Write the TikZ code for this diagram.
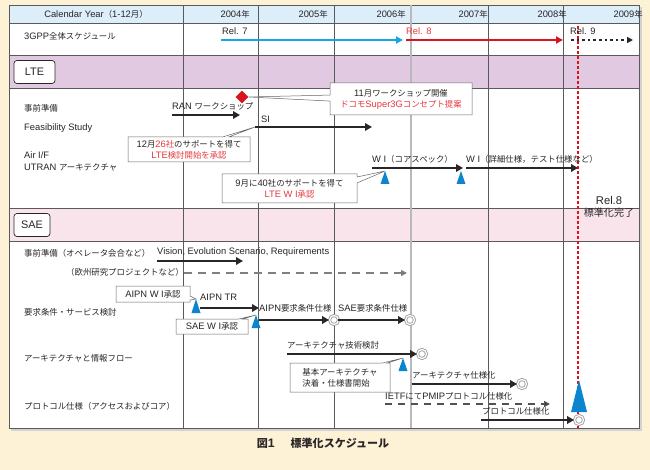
\documentclass[tikz,border=0pt]{standalone}
\usepackage{fontspec}
\setmainfont{Liberation Sans}[Scale=1.17]
\newfontfamily\enfont{Liberation Sans}[Scale=1.17]
\newfontfamily\jpfont{Noto Sans CJK JP}[Scale=1.05]
\usetikzlibrary{arrows.meta,shapes.geometric,shapes.callouts}

\XeTeXinterchartokenstate=1
\newXeTeXintercharclass\jpclass
\newcount\jpc
\def\jprange#1#2{\jpc=#1\relax
  \loop\XeTeXcharclass\jpc=\jpclass\relax\advance\jpc by 1\relax
  \ifnum\jpc<#2\relax\repeat}
\jprange{"3000}{"3100}
\jprange{"4E00}{"A000}
\jprange{"FF00}{"FFF0}
\XeTeXinterchartoks 0 \jpclass = {\jpfont}
\XeTeXinterchartoks 4095 \jpclass = {\jpfont}
\XeTeXinterchartoks \jpclass 0 = {\enfont}
\XeTeXinterchartoks 4095 0 = {\enfont}

\definecolor{cream}{HTML}{FEF2D6}
\definecolor{headblue}{HTML}{DCEEF9}
\definecolor{ltepurple}{HTML}{E2C9E2}
\definecolor{saepink}{HTML}{F9E4EC}
\definecolor{ink}{HTML}{2A2526}
\definecolor{relcyan}{HTML}{16A6E0}
\definecolor{relred}{HTML}{D9141E}
\definecolor{triblue}{HTML}{0B86CE}
\definecolor{notered}{HTML}{E8383D}
\definecolor{gridgray}{HTML}{5A5A5A}

\tikzset{
  pics/tri/.style 2 args={code={\fill[triblue] (-#1,#2) -- (#1,#2) -- (0,0) -- cycle;}}
}

\begin{document}
\begin{tikzpicture}[x=1pt,y=-1pt,
  lbl/.style={anchor=west,inner sep=0pt,text=ink,font=\fontsize{8}{10}\selectfont},
  yr/.style={lbl,anchor=east},
  bar/.style={draw=ink,line width=2.4pt,-{Triangle[length=7pt,width=7.5pt]}},
  ring/.style={circle,draw=gray!75,double=white,double distance=1.2pt,line width=0.9pt,fill=white,minimum size=9pt,inner sep=0pt},
  note/.style={rectangle callout,draw=gray!80!black,fill=white,line width=0.5pt,inner sep=1pt,align=center,text=ink,font=\fontsize{8}{11}\selectfont,callout pointer width=6pt},
  tag/.style={draw=ink,line width=0.7pt,rounded corners=3pt,fill=white,inner sep=0pt,text=ink,font=\fontsize{9.3}{12}\selectfont,minimum height=23pt},
  grid/.style={draw=gridgray,line width=0.6pt}
]
\useasboundingbox (0,0) rectangle (650,470);
\fill[cream] (0,0) rectangle (650,470);
\fill[gray!35] (11,7) rectangle (642,431);
\fill[white] (9,5) rectangle (639,428);
\fill[headblue] (9,5) rectangle (639,23);
\fill[ltepurple] (9,55) rectangle (639,88);
\fill[saepink] (9,208) rectangle (639,241);
\draw[grid] (9,5) rectangle (639,428);
\foreach \y in {23,55,88,208,241}
  \draw[grid] (9,\y) -- (639,\y);
\foreach \x in {183,258,334,488,563}
  \draw[grid] (\x,5) -- (\x,428);
\draw[gray!55,line width=1.6pt] (411,5) -- (411,428);

\node[lbl,anchor=center] (cal) at (96,14) {Calendar Year（1-12月）};
\node[yr] (y4) at (250,14) {2004年};
\node[yr] (y5) at (328,14) {2005年};
\node[yr] (y6) at (406,14) {2006年};
\node[yr] (y7) at (488,14) {2007年};
\node[yr] (y8) at (567,14) {2008年};
\node[yr] (y9) at (643,14) {2009年};

\coordinate (rl-top) at (578,26);
\coordinate (rl-bot) at (578,428);
\draw[relred,line width=2.6pt,dash pattern=on 2.6pt off 2.4pt] (rl-top) -- (rl-bot);

\node[lbl] (gpp) at (24,36) {3GPP全体スケジュール};
\coordinate (r7-s) at (221,40);
\coordinate (r7-e) at (403,40);
\coordinate (r8-s) at (406,40);
\coordinate (r8-e) at (563,40);
\coordinate (r9-s) at (571,40);
\coordinate (r9-e) at (633,40);
\draw[bar,draw=relcyan,line width=2.2pt,-{Triangle[length=7pt,width=7pt,fill=relcyan]}] (r7-s) -- (r7-e);
\draw[bar,draw=relred,line width=2.2pt,-{Triangle[length=7pt,width=7pt,fill=relred]}] (r8-s) -- (r8-e);
\draw[bar,dash pattern=on 2.6pt off 3pt,-{Triangle[length=6pt,width=6pt]}] (r9-s) -- (r9-e);
\node[lbl] (rel7) at (222,31) {Rel. 7};
\node[lbl,text=notered] (rel8) at (406,31) {Rel. 8};
\node[lbl] (rel9) at (570,31) {Rel. 9};

\node[tag,minimum width=41pt] (lte) at (34.5,72) {LTE};

\node[lbl] (jizen) at (24,108) {事前準備};
\node[lbl] (fs) at (24,128) {Feasibility Study};
\node[lbl] (airif) at (24,155) {Air I/F};
\node[lbl] (utran) at (24,167) {UTRAN アーキテクチャ};

\coordinate (ran-s) at (172,115);
\coordinate (ran-e) at (240,115);
\draw[bar] (ran-s) -- (ran-e);
\node[lbl] (ran) at (172,106) {RAN ワークショップ};
\node[diamond,fill=relred,minimum size=13pt,inner sep=0pt] (ws) at (242,97) {};

\coordinate (si-s) at (255,127);
\coordinate (si-e) at (372,127);
\draw[bar] (si-s) -- (si-e);
\node[lbl] (si) at (261,119) {SI};

\coordinate (wi1-s) at (372,168);
\coordinate (wi1-e) at (463,168);
\coordinate (wi2-s) at (466,168);
\coordinate (wi2-e) at (578,168);
\draw[bar] (wi1-s) -- (wi1-e);
\draw[bar] (wi2-s) -- (wi2-e);
\node[lbl] (wi1) at (372,159) {W I（コアスペック）};
\node[lbl] (wi2) at (466,159) {W I（詳細仕様，テスト仕様など）};
\coordinate (t1) at (385,171);
\coordinate (t2) at (461,171);
\pic at (t1) {tri={4.5}{13}};
\pic at (t2) {tri={4.5}{13}};

\node[note,minimum width=142pt,minimum height=32pt,callout absolute pointer={(ws.east)}] (n-ws) at (401,99)
  {11月ワークショップ開催\\\textcolor{notered}{ドコモSuper3Gコンセプト提案}};
\node[note,minimum width=122pt,minimum height=25pt,callout absolute pointer={(si-s)}] (n-si) at (189,149.5)
  {12月\textcolor{notered}{26社}のサポートを得て\\\textcolor{notered}{LTE検討開始を承認}};
\node[note,minimum width=135pt,minimum height=29pt,callout absolute pointer={(t1)}] (n-wi) at (289.5,188.5)
  {9月に40社のサポートを得て\\\textcolor{notered}{LTE W I承認}};

\node[lbl,anchor=center,align=center,font=\fontsize{9.6}{12.5}\selectfont] (done) at (609,207) {Rel.8\\標準化完了};

\node[tag,minimum width=36pt] (sae) at (32,225) {SAE};

\node[lbl] (jizen2) at (24,253) {事前準備（オペレータ会合など）};
\node[lbl,anchor=east] (euro) at (184,272) {（欧州研究プロジェクトなど）};
\node[lbl] (yokyu) at (24,312) {要求条件・サービス検討};
\node[lbl] (arch) at (24,358) {アーキテクチャと情報フロー};
\node[lbl] (proto) at (24,406) {プロトコル仕様（アクセスおよびコア）};

\coordinate (vis-s) at (157,261);
\coordinate (vis-e) at (243,261);
\draw[bar] (vis-s) -- (vis-e);
\node[lbl] (vis) at (157,252) {Vision, Evolution Scenario, Requirements};
\coordinate (eu-s) at (184,273);
\coordinate (eu-e) at (407,273);
\draw[gray,line width=1.5pt,dash pattern=on 8pt off 6pt,-{Triangle[length=6pt,width=6pt,fill=ink]}] (eu-s) -- (eu-e);

\coordinate (tr-s) at (200,308);
\coordinate (tr-e) at (259,308);
\draw[bar] (tr-s) -- (tr-e);
\node[lbl] (tr) at (200,297) {AIPN TR};
\coordinate (t3) at (196,299);
\pic at (t3) {tri={4.5}{14}};

\node[ring] (c1) at (334,320) {};
\node[ring] (c2) at (410,320) {};
\coordinate (ar-s) at (259,320);
\coordinate (sr-s) at (338,320);
\draw[bar] (ar-s) -- (c1);
\draw[bar] (sr-s) -- (c2);
\node[lbl] (ar) at (259,308) {AIPN要求条件仕様};
\node[lbl] (sr) at (338,308) {SAE要求条件仕様};
\coordinate (t4) at (256,315);
\pic at (t4) {tri={4.5}{13}};

\node[note,minimum width=74pt,minimum height=16pt,callout absolute pointer={(t3)},callout pointer width=4pt] (n-aipn) at (153,294) {AIPN W I承認};
\node[note,minimum width=72pt,minimum height=15pt,callout absolute pointer={(t4)},callout pointer width=4pt] (n-sae) at (212,326.5) {SAE W I承認};

\node[ring] (c3) at (422,354) {};
\coordinate (at-s) at (287,354);
\draw[bar] (at-s) -- (c3);
\node[lbl] (at) at (287,345) {アーキテクチャ技術検討};
\coordinate (t5) at (403,358);
\pic at (t5) {tri={4.5}{13}};
\node[note,minimum width=100pt,minimum height=29pt,align=left,callout absolute pointer={(t5)},callout pointer width=5pt] (n-arch) at (340,377.5)
  {基本アーキテクチャ\\決着・仕様書開始};

\node[ring] (c4) at (522,384) {};
\coordinate (as-s) at (412,384);
\draw[bar] (as-s) -- (c4);
\node[lbl] (as) at (412,375) {アーキテクチャ仕様化};

\coordinate (ie-s) at (385,404);
\coordinate (ie-e) at (550,404);
\draw[ink!80,line width=1.4pt,dash pattern=on 7pt off 6pt,-{Triangle[length=6pt,width=6pt,fill=ink]}] (ie-s) -- (ie-e);
\node[lbl] (ie) at (385,396) {IETFにてPMIPプロトコル仕様化};

\coordinate (t6) at (579,380);
\pic at (t6) {tri={8}{32}};
\node[ring] (c5) at (579,420) {};
\coordinate (ps-s) at (481,420);
\draw[bar] (ps-s) -- (c5);
\node[lbl] (ps) at (482,411) {プロトコル仕様化};

\node[inner sep=0pt,text=ink,font=\fontsize{10.5}{12}\selectfont\bfseries] (cap) at (323,443) {図1\hspace{1.3em}標準化スケジュール};
\end{tikzpicture}
\end{document}
